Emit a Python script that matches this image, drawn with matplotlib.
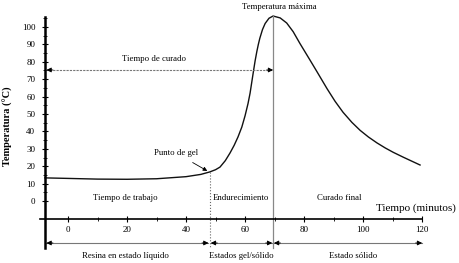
import numpy as np
import matplotlib.pyplot as plt
from matplotlib.ticker import FixedLocator

# curve (time in minutes, temperature in degC)
tiempo = [-7.8, 0, 10, 20, 30, 40, 45, 48, 50, 51.5, 53.3, 54.9, 56.3, 57.6, 58.9,
          60, 61, 61.7, 62.2, 62.7, 63.4, 64, 64.5, 65, 65.9, 66.8, 68.1, 69.5,
          71.9, 74.1, 76.3, 78.6, 82, 84.3, 87.8, 90.5, 93.2, 96.2, 99, 101.8,
          104.7, 107.5, 110.2, 113.6, 119.3]
temperatura = [13.3, 13.0, 12.6, 12.5, 12.8, 14.0, 15.3, 16.7, 18.0, 19.5, 23.2,
               27.6, 32.0, 36.8, 42.5, 49.0, 56.0, 62.0, 67.5, 73.0, 80.5, 86.0,
               90.0, 93.5, 98.5, 102.0, 105.0, 106.3, 105.2, 102.3, 97.3, 90.5,
               81.0, 74.5, 64.5, 57.3, 51.0, 45.2, 40.6, 36.8, 33.4, 30.5, 28.0,
               25.2, 20.7]

t_gel, T_gel = 48, 16.7
t_max, T_max = 69.5, 106.3
t_inicio, t_fin = -7.8, 120

x_ticks = [0, 20, 40, 60, 80, 100, 120]
x_minor = [10, 30, 50, 70, 90, 110]
y_ticks = [0, 10, 20, 30, 40, 50, 60, 70, 80, 90, 100]
y_minor = [5, 15, 25, 35, 45, 55, 65, 75, 85, 95, 105]

plt.rcParams['font.family'] = ['Liberation Serif', 'DejaVu Serif']

fig = plt.figure(figsize=(4.59, 2.63), dpi=100)
ax = fig.add_axes([0, 0, 1, 1])
ax.set_xlim(-23.05, 132.5)
ax.set_ylim(-35.6, 115.5)
ax.patch.set_visible(False)

for s in ['top', 'right']:
    ax.spines[s].set_visible(False)
ax.spines['left'].set_position(('data', t_inicio))
ax.spines['left'].set_bounds(-27, 106)
ax.spines['left'].set_linewidth(1.8)
ax.spines['bottom'].set_position(('data', -10.3))
ax.spines['bottom'].set_bounds(-9.5, 120)
ax.spines['bottom'].set_linewidth(1.2)

ax.set_xticks(x_ticks)
ax.set_yticks(y_ticks)
ax.xaxis.set_minor_locator(FixedLocator(x_minor))
ax.yaxis.set_minor_locator(FixedLocator(y_minor))
ax.tick_params(axis='both', which='major', direction='inout', length=4, width=0.8,
               labelsize=6.5)
ax.tick_params(axis='both', which='minor', direction='inout', length=3, width=0.6)
ax.tick_params(axis='x', pad=3)
ax.tick_params(axis='y', pad=5)

# curve
ax.plot(tiempo, temperatura, color='#111', lw=1.0)

# vertical reference lines
ax.plot([t_gel, t_gel], [T_gel, -27], color='#666', lw=0.8, ls=':')
ax.plot([t_max, t_max], [T_max, -27], color='#888', lw=0.9)


def flecha(x0, x1, y, ls='-'):
    ax.plot([x0, x1], [y, y], color='#777', lw=0.8, ls=ls)
    for a, b in [(x0, x1), (x1, x0)]:
        d = 2.2 if b > a else -2.2
        ax.annotate('', xy=(b, y), xytext=(b - d, y),
                    arrowprops=dict(arrowstyle='-|>', color='black',
                                    mutation_scale=7, lw=0.6,
                                    shrinkA=0, shrinkB=0))


flecha(t_inicio + 0.5, t_max, 75.3, ls=(0, (2, 1)))
flecha(t_inicio + 0.5, t_gel - 0.4, -24.1)
flecha(t_gel + 0.4, t_max - 0.3, -24.1)
flecha(t_max + 0.3, t_fin, -24.1)

# texts
fs = 6.3
ax.text(71.5, 111.5, 'Temperatura máxima', ha='center', va='center', fontsize=fs)
ax.text(29, 81.6, 'Tiempo de curado', ha='center', va='center', fontsize=fs)
ax.annotate('Punto de gel', xy=(t_gel - 0.8, T_gel + 0.6), xytext=(36.6, 27.6),
            ha='center', va='center', fontsize=fs,
            arrowprops=dict(arrowstyle='-|>', color='black', mutation_scale=6,
                            lw=0.6, shrinkA=4, shrinkB=0))
ax.text(19.3, 1.7, 'Tiempo de trabajo', ha='center', va='center', fontsize=fs)
ax.text(58.6, 1.7, 'Endurecimiento', ha='center', va='center', fontsize=fs)
ax.text(92, 1.7, 'Curado final', ha='center', va='center', fontsize=fs)
ax.text(118, -4, 'Tiempo (minutos)', ha='center', va='center', fontsize=8)
ax.text(19.6, -31.6, 'Resina en estado líquido', ha='center', va='center', fontsize=fs)
ax.text(58.6, -31.6, 'Estados gel/sólido', ha='center', va='center', fontsize=fs)
ax.text(96.6, -31.6, 'Estado sólido', ha='center', va='center', fontsize=fs)
ax.text(-20.3, 43, 'Temperatura (°C)', rotation=90, ha='center', va='center',
        fontsize=7.5, fontweight='bold')

fig.savefig('out.png', dpi=100)
